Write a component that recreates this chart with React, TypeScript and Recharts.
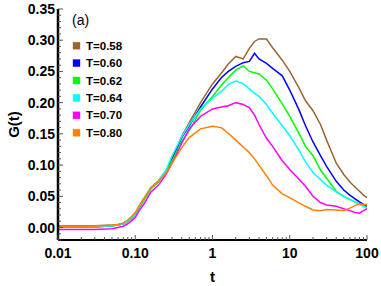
import React from 'react';
import { LineChart, Line, XAxis, YAxis, Legend } from 'recharts';

const FONT = '"Liberation Sans", Arial, Helvetica, sans-serif';

// time grid (shared by all series)
const T = [0.01, 0.02, 0.03, 0.05, 0.06, 0.07, 0.08, 0.09, 0.1, 0.11, 0.13, 0.16, 0.2, 0.25, 0.3, 0.4, 0.5, 0.7, 1, 1.3, 1.6, 2, 2.5, 3, 3.5, 4, 5, 6, 8, 10, 13, 16, 20, 25, 30, 40, 50, 60, 70, 80, 90, 100];

const G058 = [0.003, 0.003, 0.003, 0.004, 0.005, 0.007, 0.011, 0.016, 0.022, 0.031, 0.046, 0.064, 0.075, 0.09, 0.11, 0.146, 0.168, 0.2, 0.23, 0.247, 0.262, 0.274, 0.27, 0.287, 0.298, 0.302, 0.302, 0.288, 0.268, 0.25, 0.225, 0.203, 0.187, 0.165, 0.14, 0.103, 0.085, 0.073, 0.065, 0.058, 0.052, 0.048];
const G060 = [0.001, 0.001, 0.001, 0.003, 0.004, 0.006, 0.01, 0.015, 0.021, 0.03, 0.045, 0.063, 0.074, 0.09, 0.11, 0.144, 0.163, 0.193, 0.222, 0.24, 0.25, 0.258, 0.264, 0.266, 0.279, 0.27, 0.263, 0.255, 0.243, 0.22, 0.19, 0.163, 0.137, 0.115, 0.098, 0.074, 0.06, 0.052, 0.046, 0.041, 0.037, 0.034];
const G062 = [0.002, 0.002, 0.002, 0.003, 0.004, 0.006, 0.01, 0.015, 0.021, 0.03, 0.044, 0.062, 0.073, 0.088, 0.107, 0.138, 0.155, 0.188, 0.21, 0.228, 0.24, 0.252, 0.259, 0.25, 0.248, 0.246, 0.236, 0.222, 0.198, 0.178, 0.152, 0.13, 0.115, 0.092, 0.079, 0.058, 0.05, 0.045, 0.041, 0.038, 0.035, 0.032];
const G064 = [0.001, 0.001, 0.001, 0.003, 0.004, 0.006, 0.01, 0.016, 0.022, 0.032, 0.047, 0.064, 0.075, 0.092, 0.115, 0.145, 0.165, 0.19, 0.207, 0.218, 0.229, 0.235, 0.23, 0.222, 0.215, 0.21, 0.197, 0.183, 0.163, 0.147, 0.125, 0.105, 0.088, 0.077, 0.068, 0.057, 0.05, 0.045, 0.041, 0.037, 0.034, 0.031];
const G070 = [-0.003, -0.003, -0.003, -0.002, 0, 0.002, 0.006, 0.011, 0.016, 0.025, 0.038, 0.057, 0.068, 0.085, 0.103, 0.135, 0.158, 0.178, 0.19, 0.193, 0.195, 0.2, 0.197, 0.192, 0.18, 0.165, 0.143, 0.13, 0.107, 0.093, 0.078, 0.066, 0.05, 0.04, 0.036, 0.034, 0.03, 0.027, 0.024, 0.023, 0.027, 0.03];
const G080 = [0.002, 0.002, 0.002, 0.004, 0.005, 0.007, 0.012, 0.018, 0.024, 0.033, 0.047, 0.064, 0.074, 0.087, 0.103, 0.128, 0.144, 0.158, 0.162, 0.16, 0.151, 0.14, 0.129, 0.12, 0.11, 0.1, 0.083, 0.068, 0.054, 0.048, 0.04, 0.034, 0.028, 0.027, 0.029, 0.028, 0.027, 0.031, 0.035, 0.038, 0.037, 0.037];

const SERIES = [
  { key: 'g058', name: 'T=0.58', color: '#996633', values: G058 },
  { key: 'g060', name: 'T=0.60', color: '#0000FF', values: G060 },
  { key: 'g062', name: 'T=0.62', color: '#00FF00', values: G062 },
  { key: 'g064', name: 'T=0.64', color: '#00FFFF', values: G064 },
  { key: 'g070', name: 'T=0.70', color: '#FF00FF', values: G070 },
  { key: 'g080', name: 'T=0.80', color: '#FF8000', values: G080 },
];

const X_MAJOR = [0.01, 0.1, 1, 10, 100];
const X_LABELS = ['0.01', '0.10', '1', '10', '100'];
const X_MINOR = [0.02, 0.03, 0.04, 0.05, 0.06, 0.07, 0.08, 0.09, 0.2, 0.3, 0.4, 0.5, 0.6, 0.7, 0.8, 0.9, 2, 3, 4, 5, 6, 7, 8, 9, 20, 30, 40, 50, 60, 70, 80, 90];
const Y_MAJOR = [0, 0.05, 0.1, 0.15, 0.2, 0.25, 0.3, 0.35];
const Y_LABELS = ['0.00', '0.05', '0.10', '0.15', '0.20', '0.25', '0.30', '0.35'];
const Y_MINOR = [-0.02, -0.01, 0.01, 0.02, 0.03, 0.04, 0.06, 0.07, 0.08, 0.09, 0.11, 0.12, 0.13, 0.14, 0.16, 0.17, 0.18, 0.19, 0.21, 0.22, 0.23, 0.24, 0.26, 0.27, 0.28, 0.29, 0.31, 0.32, 0.33, 0.34];

const ROWS = T.map((t, i) => {
  const row: any = { t };
  SERIES.forEach((s) => { row[s.key] = s.values[i]; });
  return row;
});

function LeftTick(props: any) {
  const { x, y, payload } = props;
  const idx = Y_MAJOR.indexOf(payload.value);
  const major = idx >= 0;
  return (
    <g>
      <line x1={x} y1={y} x2={x + (major ? 5 : 3)} y2={y} stroke="#555" strokeWidth={1} />
      {major && (
        <text x={x - 3} y={y} dy="0.36em" textAnchor="end" fontFamily={FONT} fontWeight="bold" fontSize={14} fill="#000">
          {Y_LABELS[idx]}
        </text>
      )}
    </g>
  );
}

function RightTick(props: any) {
  const { x, y, payload } = props;
  const major = Y_MAJOR.indexOf(payload.value) >= 0;
  return <line x1={x} y1={y} x2={x - (major ? 5 : 3)} y2={y} stroke="#222" strokeWidth={1} />;
}

function BottomTick(props: any) {
  const { x, y, payload } = props;
  const idx = X_MAJOR.indexOf(payload.value);
  const major = idx >= 0;
  return (
    <g>
      <line x1={x} y1={y} x2={x} y2={y - (major ? 5 : 3)} stroke="#555" strokeWidth={1} />
      {major && (
        <text x={x} y={y + 18} textAnchor="middle" fontFamily={FONT} fontWeight="bold" fontSize={14} fill="#000">
          {X_LABELS[idx]}
        </text>
      )}
    </g>
  );
}

function TopTick(props: any) {
  const { x, y, payload } = props;
  const major = X_MAJOR.indexOf(payload.value) >= 0;
  return <line x1={x} y1={y} x2={x} y2={y + (major ? 5 : 3)} stroke="#888" strokeWidth={1} />;
}

function LegendBox() {
  return (
    <svg width={130} height={145} style={{ display: 'block' }}>
      <text x={72} y={25} fontFamily={FONT} fontSize={14} fill="#000">(a)</text>
      {SERIES.map((s, i) => {
        const cy = 45.7 + i * 17.4;
        return (
          <g key={s.key}>
            <rect x={73} y={cy - 3.5} width={7} height={7} fill={s.color} stroke={s.color} strokeOpacity={0.6} strokeWidth={0.6} />
            <text x={86} y={cy + 4} fontFamily={FONT} fontWeight="bold" fontSize={11.5} fill="#000">{s.name}</text>
          </g>
        );
      })}
    </svg>
  );
}

export default function App() {
  return (
    <div style={{ position: 'absolute', left: 0, top: 0, background: '#fff' }}>
      <LineChart width={381} height={286} data={ROWS} margin={{ top: 9, right: 14, bottom: 0, left: 0 }}>
        <XAxis
          xAxisId="b"
          dataKey="t"
          type="number"
          scale="log"
          domain={[0.01, 100]}
          allowDataOverflow
          ticks={[...X_MAJOR, ...X_MINOR]}
          interval={0}
          orientation="bottom"
          height={46}
          tickSize={0}
          tickMargin={0}
          tickLine={false}
          axisLine={{ stroke: '#000', strokeWidth: 2 }}
          tick={<BottomTick />}
          label={{ value: 't', position: 'insideBottom', offset: 4, fontFamily: FONT, fontWeight: 'bold', fontSize: 15, fill: '#000' }}
        />
        <XAxis
          xAxisId="top"
          dataKey="t"
          type="number"
          scale="log"
          domain={[0.01, 100]}
          allowDataOverflow
          ticks={[...X_MAJOR, ...X_MINOR]}
          interval={0}
          orientation="top"
          height={0}
          tickSize={0}
          tickMargin={0}
          tickLine={false}
          axisLine={{ stroke: '#777', strokeWidth: 1 }}
          tick={<TopTick />}
        />
        <YAxis
          yAxisId="l"
          type="number"
          domain={[-0.02, 0.35]}
          allowDataOverflow
          ticks={[...Y_MAJOR, ...Y_MINOR]}
          interval={0}
          width={58}
          tickSize={0}
          tickMargin={0}
          tickLine={false}
          axisLine={{ stroke: '#000', strokeWidth: 2.5 }}
          tick={<LeftTick />}
          label={{ value: 'G(t)', angle: -90, position: 'center', dx: -15, fontFamily: FONT, fontWeight: 'bold', fontSize: 15, fill: '#000' }}
        />
        <YAxis
          yAxisId="r"
          orientation="right"
          type="number"
          domain={[-0.02, 0.35]}
          allowDataOverflow
          ticks={[...Y_MAJOR, ...Y_MINOR]}
          interval={0}
          width={0}
          tickSize={0}
          tickMargin={0}
          tickLine={false}
          axisLine={{ stroke: '#000', strokeWidth: 2.5 }}
          tick={<RightTick />}
        />
        {SERIES.map((s) => (
          <Line
            key={s.key}
            xAxisId="b"
            yAxisId="l"
            dataKey={s.key}
            name={s.name}
            stroke={s.color}
            strokeWidth={1.5}
            dot={false}
            type="linear"
            isAnimationActive={false}
          />
        ))}
        <Legend
          layout="vertical"
          align="center"
          verticalAlign="middle"
          wrapperStyle={{ left: 0, top: 0, width: 130, height: 145 }}
          content={() => <LegendBox />}
        />
      </LineChart>
    </div>
  );
}
